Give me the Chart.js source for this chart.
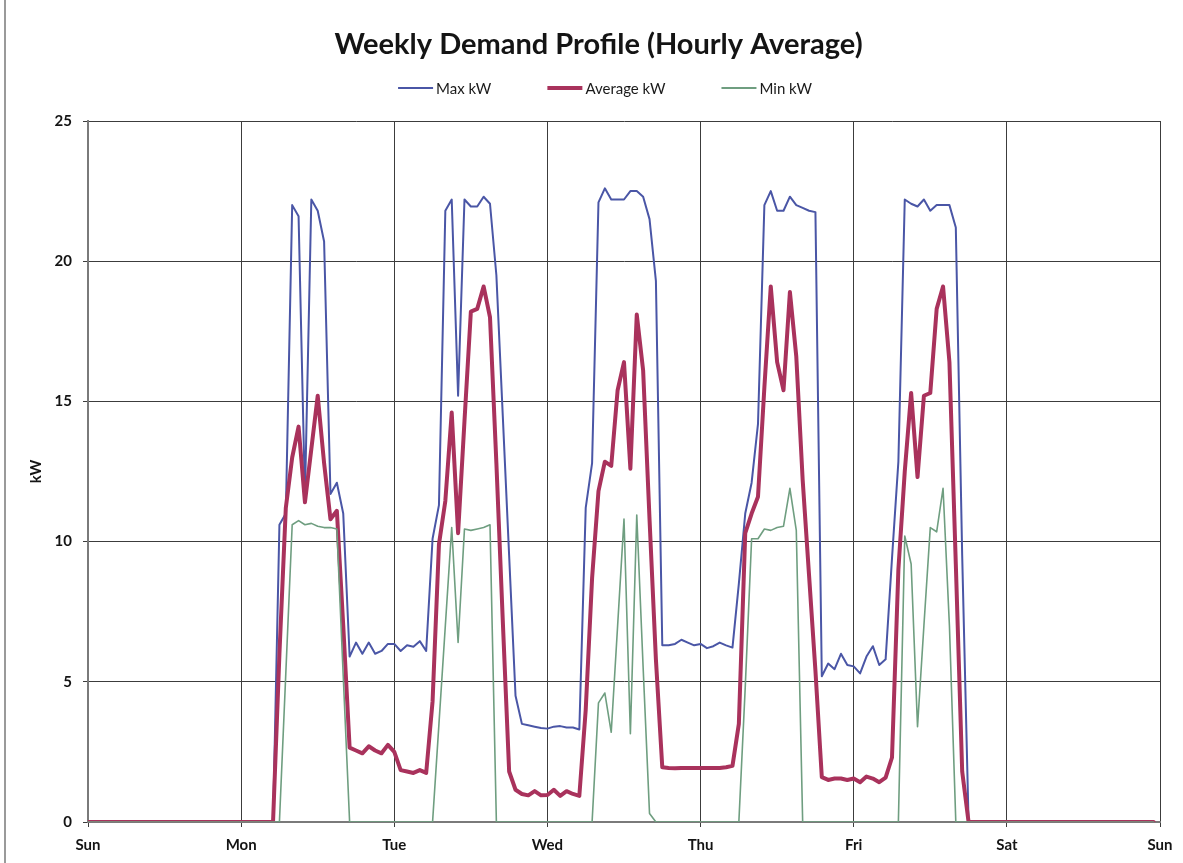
<!DOCTYPE html>
<html>
<head>
<meta charset="utf-8">
<script src="https://cdn.jsdelivr.net/npm/chart.js@4.4.1/dist/chart.umd.min.js"></script>
<style>
html,body{margin:0;padding:0;background:#fff;}
#wrap{width:1183px;height:863px;position:relative;}
canvas{display:block;}
</style>
</head>
<body>
<div id="wrap"><canvas id="c" width="1183" height="863"></canvas></div>
<script>
// ---- Data (hourly averages, Sunday 00:00 .. Saturday 23:00) ----
const dayLabels = ['Sun','Mon','Tue','Wed','Thu','Fri','Sat','Sun'];
const seriesNames = ['Max kW','Average kW','Min kW'];
const yTicks = [0,5,10,15,20,25];

const maxKW = [
  // Sun
  0,0,0,0,0,0,0,0,0,0,0,0,0,0,0,0,0,0,0,0,0,0,0,0,
  // Mon
  0,0,0,0,0,0,10.6,11.0,22.0,21.6,11.6,22.2,21.8,20.7,11.7,12.1,11.0,5.9,6.4,6.0,6.4,6.0,6.1,6.35,
  // Tue
  6.35,6.1,6.3,6.25,6.45,6.1,10.1,11.3,21.8,22.2,15.2,22.2,21.95,21.95,22.3,22.05,19.5,14.5,9.5,4.5,3.5,3.45,3.4,3.35,
  // Wed
  3.33,3.4,3.42,3.37,3.37,3.3,11.2,12.8,22.1,22.6,22.2,22.2,22.2,22.5,22.5,22.3,21.5,19.3,6.3,6.3,6.35,6.5,6.4,6.3,
  // Thu
  6.35,6.2,6.27,6.4,6.3,6.22,8.5,11.0,12.1,14.2,22.0,22.5,21.8,21.8,22.3,22.0,21.9,21.8,21.75,5.2,5.65,5.45,6.0,5.6,
  // Fri
  5.55,5.3,5.9,6.27,5.6,5.8,9.4,12.85,22.2,22.05,21.95,22.2,21.8,22.0,22.0,22.0,21.2,9.5,0,0,0,0,0,0,
  // Sat
  0,0,0,0,0,0,0,0,0,0,0,0,0,0,0,0,0,0,0,0,0,0,0,0
];

const avgKW = [
  // Sun
  0,0,0,0,0,0,0,0,0,0,0,0,0,0,0,0,0,0,0,0,0,0,0,0,
  // Mon
  0,0,0,0,0,0,6.0,11.2,13.0,14.1,11.4,13.3,15.2,12.8,10.8,11.1,7.0,2.65,2.55,2.45,2.7,2.55,2.45,2.75,
  // Tue
  2.5,1.85,1.8,1.75,1.85,1.75,4.3,9.9,11.45,14.6,10.3,14.3,18.2,18.3,19.1,18.0,12.8,7.2,1.8,1.15,1.0,0.95,1.1,0.95,
  // Wed
  0.96,1.15,0.93,1.1,1.0,0.93,4.0,8.7,11.8,12.85,12.7,15.4,16.4,12.6,18.1,16.1,10.8,5.8,1.95,1.93,1.92,1.93,1.93,1.93,
  // Thu
  1.93,1.93,1.93,1.93,1.95,2.0,3.5,10.3,11.0,11.6,15.5,19.1,16.4,15.4,18.9,16.6,12.2,8.8,5.4,1.6,1.5,1.55,1.55,1.5,
  // Fri
  1.55,1.42,1.62,1.55,1.42,1.58,2.3,9.0,12.5,15.3,12.3,15.2,15.3,18.3,19.1,16.4,9.2,1.8,0,0,0,0,0,0,
  // Sat
  0,0,0,0,0,0,0,0,0,0,0,0,0,0,0,0,0,0,0,0,0,0,0,0
];

const minKW = [
  // Sun
  0,0,0,0,0,0,0,0,0,0,0,0,0,0,0,0,0,0,0,0,0,0,0,0,
  // Mon
  0,0,0,0,0,0,0,5.3,10.6,10.75,10.6,10.65,10.55,10.5,10.5,10.45,5.2,0,0,0,0,0,0,0,
  // Tue
  0,0,0,0,0,0,0,3.5,7.0,10.5,6.4,10.45,10.4,10.45,10.5,10.6,0,0,0,0,0,0,0,0,
  // Wed
  0,0,0,0,0,0,0,0,4.25,4.6,3.2,7.0,10.8,3.15,10.95,5.5,0.3,0,0,0,0,0,0,0,
  // Thu
  0,0,0,0,0,0,0,4.8,10.1,10.1,10.45,10.4,10.5,10.55,11.9,10.4,0,0,0,0,0,0,0,0,
  // Fri
  0,0,0,0,0,0,0,0,10.2,9.2,3.4,7.0,10.5,10.35,11.9,7.0,0,0,0,0,0,0,0,0,
  // Sat
  0,0,0,0,0,0,0,0,0,0,0,0,0,0,0,0,0,0,0,0,0,0,0,0
];

// hour-of-week index for each value (x position on the linear time axis)
const hourOfWeek = maxKW.map((_, i) => i);
const toXY = arr => arr.map((v, i) => ({x: hourOfWeek[i], y: v}));

const FONT = 'Lato, "Open Sans", sans-serif';

// Custom legend drawn as line samples (matches Excel-style legend spacing)
const lineLegend = {
  id: 'lineLegend',
  afterDraw(chart) {
    const ctx = chart.ctx;
    ctx.save();
    ctx.font = '15px ' + FONT;
    ctx.textBaseline = 'middle';
    ctx.textAlign = 'left';
    const lineLen = 35, textGap = 3, itemGap = 56, y = 88;
    const ds = chart.data.datasets;
    const widths = ds.map(d => lineLen + textGap + ctx.measureText(d.label).width);
    const total = widths.reduce((a, b) => a + b, 0) + itemGap * (ds.length - 1);
    let x = 605 - total / 2;
    ds.forEach((d, i) => {
      ctx.strokeStyle = d.borderColor;
      ctx.lineWidth = d.label === 'Average kW' ? 4 : 2;
      ctx.beginPath();
      ctx.moveTo(x, y);
      ctx.lineTo(x + lineLen, y);
      ctx.stroke();
      ctx.fillStyle = '#1a1a1a';
      ctx.fillText(d.label, x + lineLen + textGap, y + 1);
      x += widths[i] + itemGap;
    });
    ctx.restore();
  }
};

const frame = {
  id: 'frame',
  beforeDraw(chart) {
    const ctx = chart.ctx;
    ctx.save();
    ctx.fillStyle = '#ffffff';
    ctx.fillRect(0, 0, chart.width, chart.height);
    ctx.strokeStyle = '#9a9a9a';
    ctx.lineWidth = 2;
    ctx.beginPath();
    ctx.moveTo(5, 0);
    ctx.lineTo(5, chart.height);
    ctx.stroke();
    ctx.restore();
  }
};

new Chart(document.getElementById('c'), {
  type: 'line',
  data: {
    datasets: [
      {label: seriesNames[0], data: toXY(maxKW), borderColor: '#4A56A6', backgroundColor: '#4A56A6', borderWidth: 2, order: 3},
      {label: seriesNames[1], data: toXY(avgKW), borderColor: '#A9325C', backgroundColor: '#A9325C', borderWidth: 4, order: 2},
      {label: seriesNames[2], data: toXY(minKW), borderColor: '#6F9E80', backgroundColor: '#6F9E80', borderWidth: 1.6, order: 1}
    ]
  },
  options: {
    responsive: false,
    animation: false,
    devicePixelRatio: 1,
    elements: {
      point: {radius: 0, hoverRadius: 0},
      line: {tension: 0, borderJoinStyle: 'round', borderCapStyle: 'round'}
    },
    layout: {padding: {left: 37, right: 23, top: 0, bottom: 0}},
    plugins: {
      legend: {display: false},
      tooltip: {enabled: false},
      title: {
        display: true,
        text: 'Weekly Demand Profile (Hourly Average)',
        color: '#141414',
        font: {family: FONT, size: 29, weight: 'bold', lineHeight: 1.2},
        padding: {top: 27, bottom: 59.2}
      }
    },
    scales: {
      x: {
        type: 'linear',
        min: 0,
        max: 168,
        afterBuildTicks(scale) {
          scale.ticks = dayLabels.map((_, i) => ({value: i * 24}));
        },
        ticks: {
          autoSkip: false,
          maxRotation: 0,
          padding: 9,
          color: '#141414',
          font: {family: FONT, size: 15, weight: 'bold'},
          callback: (v) => dayLabels[Math.round(v / 24)]
        },
        grid: {color: '#3c3c3c', lineWidth: 1, tickLength: 5},
        border: {color: '#7a7a7a', width: 2},
        afterFit(scale) { scale.height = 41; }
      },
      y: {
        min: 0,
        max: 25,
        afterBuildTicks(scale) {
          scale.ticks = yTicks.map(v => ({value: v}));
        },
        ticks: {
          padding: 11,
          color: '#141414',
          font: {family: FONT, size: 15, weight: 'bold'}
        },
        grid: {color: '#3c3c3c', lineWidth: 1, tickLength: 5},
        border: {color: '#7a7a7a', width: 2},
        title: {
          display: true,
          text: 'kW',
          color: '#141414',
          font: {family: FONT, size: 15, weight: 'bold'},
          padding: {top: -10, bottom: 0}
        },
        afterFit(scale) { scale.width = 51; }
      }
    }
  },
  plugins: [frame, lineLegend]
});
</script>
</body>
</html>
